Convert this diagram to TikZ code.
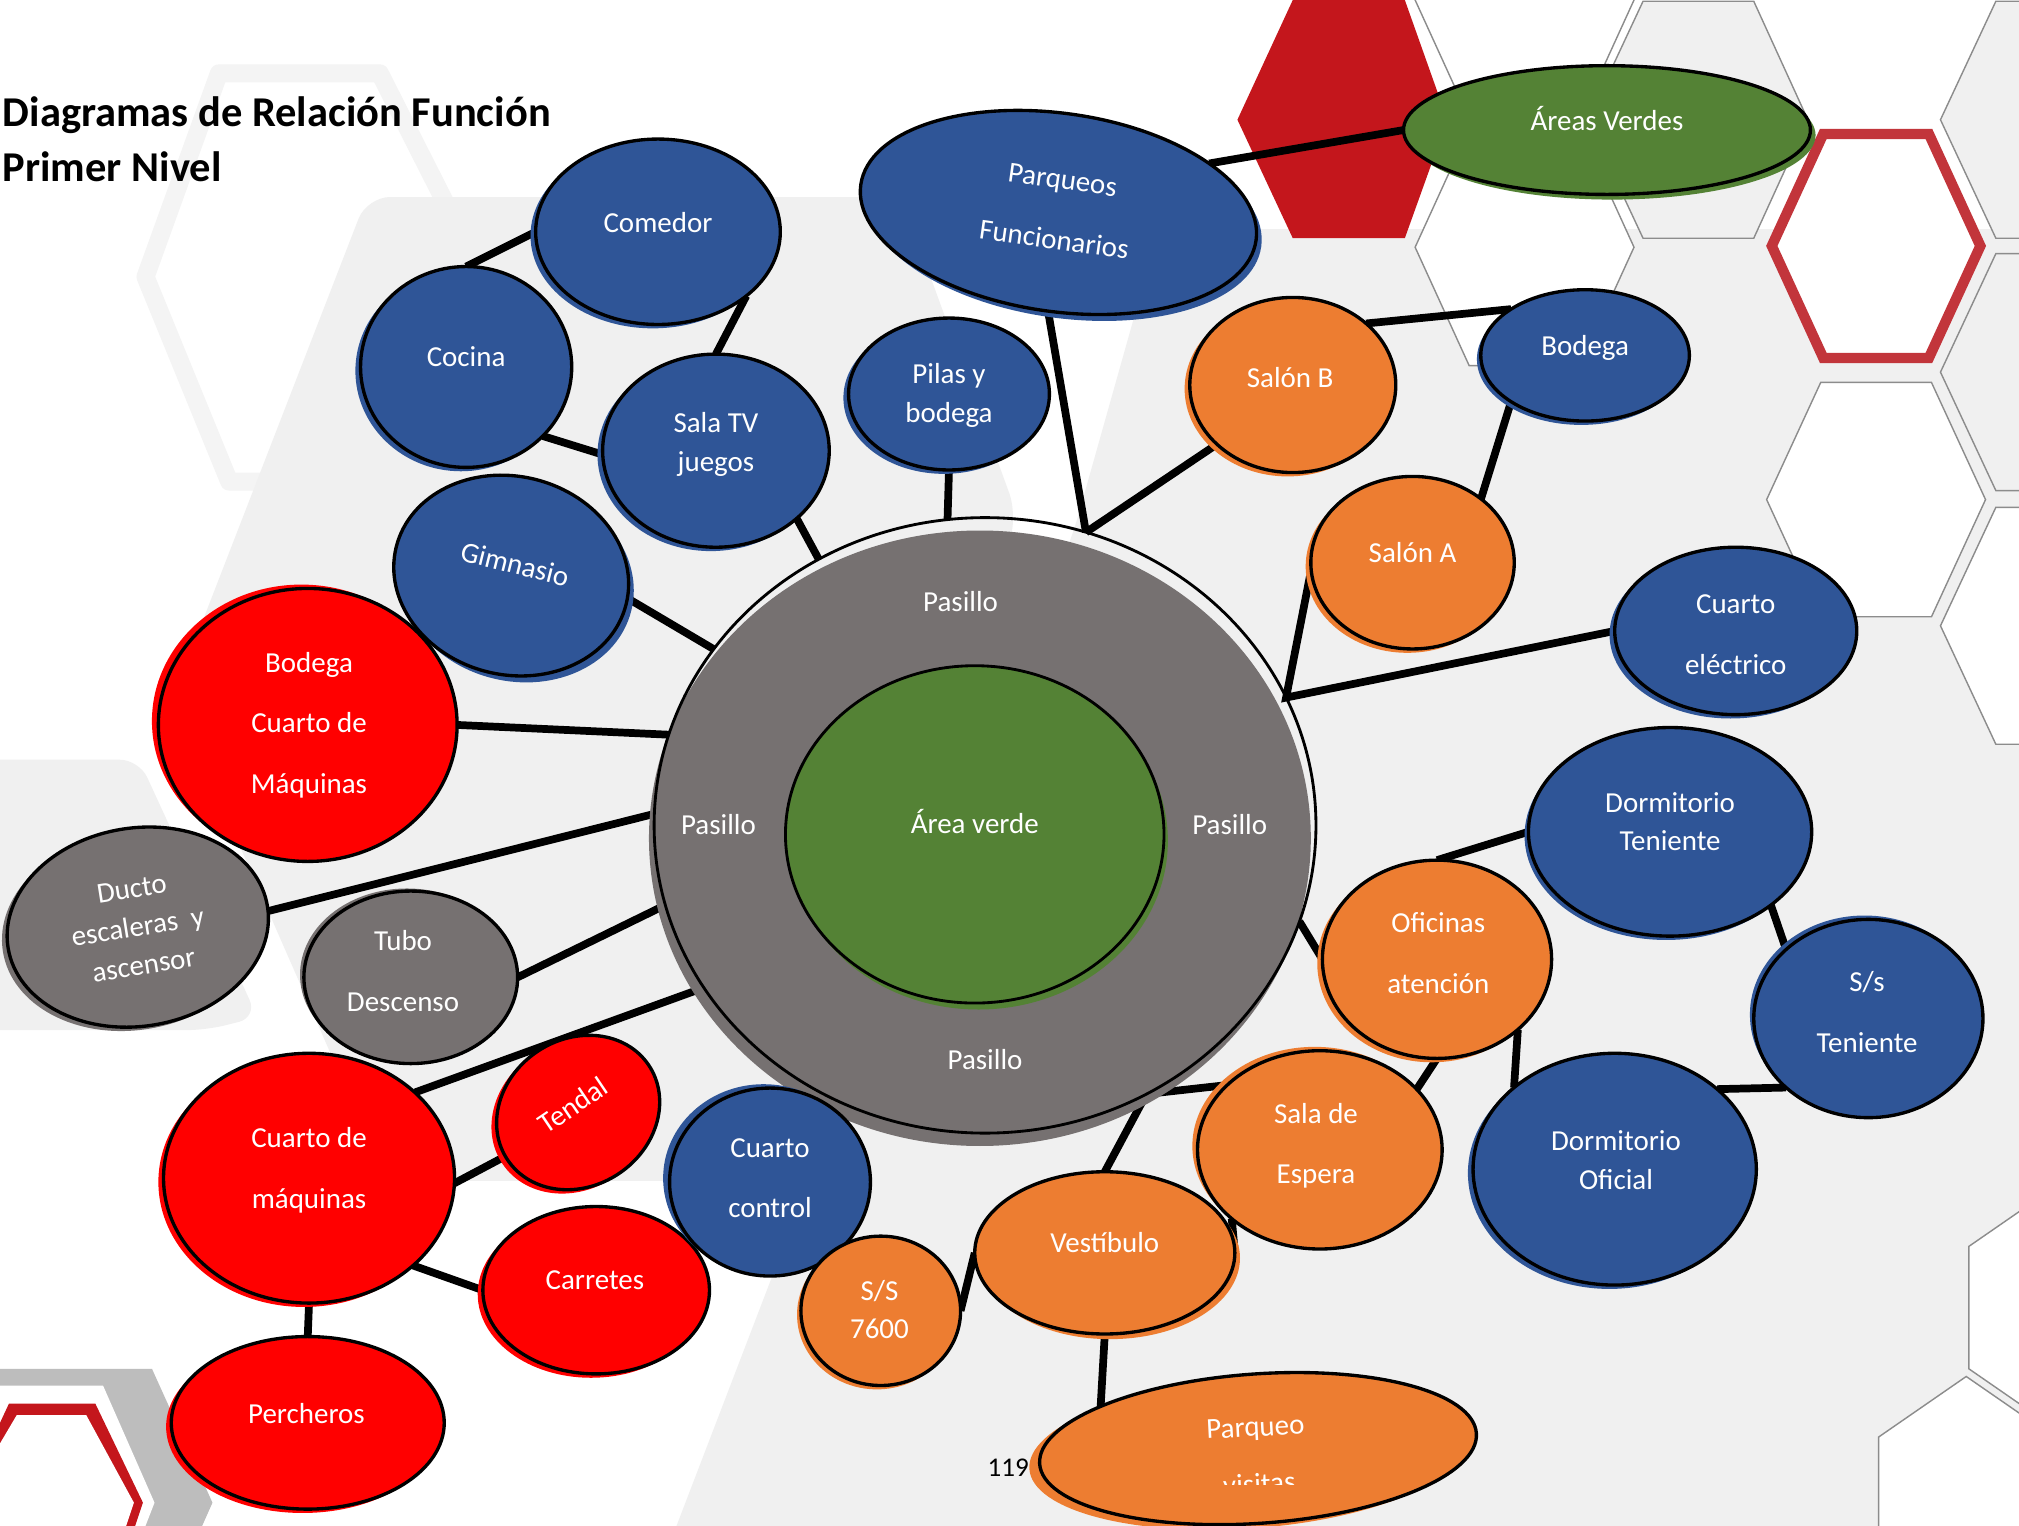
\documentclass[tikz,border=0pt]{standalone}
\usepackage{fontspec}
\setmainfont{Carlito}
\usetikzlibrary{shapes.geometric,shadows}
\definecolor{bblue}{HTML}{2F5597}
\definecolor{borange}{HTML}{ED7D31}
\definecolor{bred}{HTML}{FF0000}
\definecolor{bgreen}{HTML}{548235}
\definecolor{bgray}{HTML}{767171}
\definecolor{bglight}{HTML}{F0F0F0}
\definecolor{faint}{HTML}{F4F4F4}
\definecolor{hexline}{HTML}{8C8C8C}
\definecolor{hexred}{HTML}{C4161C}
\definecolor{hexredline}{HTML}{C2353B}
\definecolor{bandgray}{HTML}{BDBDBD}
\pgfdeclarelayer{bg}
\pgfdeclarelayer{edges}
\pgfsetlayers{bg,edges,main}
\begin{document}
\begin{tikzpicture}[x=1pt,y=-1pt,
  bub/.style n args={3}{ellipse, draw=black, line width=2.6pt, inner sep=0pt, outer sep=0pt, fill=#1,
      general shadow={fill=#1, shadow xshift=#2, shadow yshift=#3}},
  txt/.style={text=white, align=center, font=\fontsize{22.5}{30}\selectfont, inner sep=0pt},
  txtl/.style={text=white, align=center, font=\fontsize{22.5}{47}\selectfont, inner sep=0pt},
  conn/.style={line width=6pt, black},
  hexw/.style={fill=white, draw=hexline, line width=1.1pt},
  hexg/.style={fill=bglight, draw=hexline, line width=1.1pt},
]
\useasboundingbox (0,0) rectangle (1568,1185);

% ---------------- background ----------------
\begin{pgfonlayer}{bg}
\fill[white] (0,0) rectangle (1568,1185);
\draw[faint, line width=14pt, line join=round] (170,57)--(295,57)--(375,215)--(295,374)--(178,374)--(113,215)--cycle;
\fill[bglight, rounded corners=18pt] (135,540)--(285,153)--(700,153)--(790,400)--(700,700)--(590,917)--(300,917)--cycle;
\fill[bglight, rounded corners=18pt] (900,178)--(1600,178)--(1600,1220)--(512,1220)--(650,860)--(833,416)--cycle;
\fill[bglight, rounded corners=15pt] (-30,590)--(108,590)--(200,790)--(160,800)--(-30,800)--cycle;
% hex grid top right
\fill[hexred] (961,93)--(1004,0)--(1091,0)--(1124,93)--(1091,185)--(1004,185)--cycle;
\draw[hexw] (1099,0)--(1141,-92)--(1227,-92)--(1269,0)--(1227,92)--(1141,92)--cycle;
\draw[hexw] (1099,192)--(1141,100)--(1227,100)--(1269,192)--(1227,284)--(1141,284)--cycle;
\draw[hexg] (1233,93)--(1276,1)--(1362,1)--(1404,93)--(1362,185)--(1276,185)--cycle;
\draw[fill=white, draw=hexredline, line width=8pt] (1376,191)--(1416,104)--(1498,104)--(1538,191)--(1498,278)--(1416,278)--cycle;
\draw[hexw] (1372,388)--(1414,297)--(1500,297)--(1542,388)--(1500,479)--(1414,479)--cycle;
\draw[hexg] (1507,93)--(1550,1)--(1636,1)--(1679,93)--(1636,185)--(1550,185)--cycle;
\draw[hexg] (1507,289)--(1550,197)--(1636,197)--(1679,289)--(1636,381)--(1550,381)--cycle;
\draw[hexw] (1507,486)--(1550,394)--(1636,394)--(1679,486)--(1636,578)--(1550,578)--cycle;
% hexes bottom right
\draw[hexw] (1529,968)--(1597,921)--(1665,968)--(1665,1063)--(1597,1110)--(1529,1063)--cycle;
\draw[hexw] (1527,1069)--(1595,1116)--(1595,1211)--(1527,1258)--(1459,1211)--(1459,1116)--cycle;
% bottom left corner
\fill[bandgray] (0,1063)--(118,1063)--(165,1167)--(157,1185)--(0,1185)--cycle;
\fill[white] (0,1076)--(80,1076)--(120,1167)--(113,1185)--(0,1185)--cycle;
\fill[hexred] (7,1090)--(74,1090)--(111,1167)--(105,1185)--(0,1185)--(0,1105)--cycle;
\fill[white] (13,1099)--(67,1099)--(104,1167)--(98,1185)--(0,1185)--(0,1121)--cycle;
\end{pgfonlayer}

% ---------------- title ----------------
\node[anchor=base west, inner sep=0pt, font=\fontsize{33}{40}\selectfont\bfseries] (title1) at (2,98) {Diagramas de Relación Función};
\node[anchor=base west, inner sep=0pt, font=\fontsize{33}{40}\selectfont\bfseries] (title2) at (2,141) {Primer Nivel};

% ---------------- central ----------------
\node[ellipse, draw=black, line width=2.2pt, inner sep=0pt, outer sep=0pt,
      general shadow={fill=bgray, shadow xshift=-4pt, shadow yshift=-10pt},
      minimum width=514, minimum height=478] (central) at (765,641) {};
\node[ellipse, draw=black, line width=2.2pt, inner sep=0pt, outer sep=0pt, fill=bgreen,
      general shadow={fill=bgreen, shadow xshift=3pt, shadow yshift=-5pt},
      minimum width=294, minimum height=262] (green) at (757,648) {};
\node[txt] (t-green) at (757,638) {Área verde};
\node[txt] (p1) at (746,467) {Pasillo};
\node[txt] (p2) at (558,640) {Pasillo};
\node[txt] (p3) at (955,640) {Pasillo};
\node[txt] (p4) at (765,823) {Pasillo};

% ---------------- bubbles ----------------
\node[bub={bblue}{-4pt}{-3pt}, minimum width=190, minimum height=144] (comedor) at (511,180) {};
\node[txt] (t-comedor) at (511,173) {Comedor};
\node[bub={bblue}{-4pt}{-3pt}, minimum width=164, minimum height=156] (cocina) at (362,285) {};
\node[txt] (t-cocina) at (362,277) {Cocina};
\node[bub={bblue}{-4pt}{-3pt}, minimum width=176, minimum height=150] (salatv) at (556,350) {};
\node[txt] (t-salatv) at (556,345) {Sala TV\\juegos};
\node[bub={bblue}{-4pt}{-3pt}, minimum width=156, minimum height=118] (pilas) at (737,306) {};
\node[txt] (t-pilas) at (737,307) {Pilas y\\bodega};
\node[bub={bblue}{4pt}{-5pt}, rotate=-8, minimum width=310, minimum height=154] (parq) at (822,165) {};
\node[txtl, rotate=-8] (t-parq) at (822,163) {Parqueos\\Funcionarios};
\node[bub={bgreen}{4pt}{-4pt}, minimum width=316, minimum height=100] (averdes) at (1248,101) {};
\node[txt] (t-averdes) at (1248,92) {Áreas Verdes};
\node[bub={borange}{-4pt}{-3pt}, minimum width=160, minimum height=136] (salonb) at (1004,299) {};
\node[txt] (t-salonb) at (1002,293) {Salón B};
\node[bub={bblue}{-3pt}{-3pt}, minimum width=162, minimum height=102] (bodega) at (1231,276) {};
\node[txt] (t-bodega) at (1231,270) {Bodega};
\node[bub={borange}{-4pt}{-3pt}, minimum width=158, minimum height=134] (salona) at (1097,437) {};
\node[txt] (t-salona) at (1097,429) {Salón A};
\node[bub={bblue}{-4pt}{-3pt}, minimum width=188, minimum height=130] (celec) at (1348,490) {};
\node[txtl] (t-celec) at (1348,493) {Cuarto\\eléctrico};
\node[bub={bblue}{4pt}{-5pt}, rotate=-14, minimum width=184, minimum height=154] (gym) at (397,447) {};
\node[txt, rotate=-14] (t-gym) at (400,438) {Gimnasio};
\node[bub={bred}{-5pt}{3pt}, minimum width=232, minimum height=212] (bcdm) at (239,563) {};
\node[txtl] (t-bcdm) at (240,563) {Bodega\\Cuarto de\\Máquinas};
\node[bub={bgray}{-4pt}{-3pt}, rotate=9, minimum width=204, minimum height=154] (ducto) at (107,720) {};
\node[txt, rotate=9] (t-ducto) at (107,720) {Ducto\\escaleras~ y\\ascensor};
\node[bub={bgray}{-3pt}{2pt}, minimum width=166, minimum height=134] (tubo) at (319,759) {};
\node[txtl] (t-tubo) at (313,754) {Tubo\\Descenso};
\node[bub={bred}{-4pt}{-3pt}, minimum width=226, minimum height=194] (cdm) at (240,915) {};
\node[txtl] (t-cdm) at (240,909) {Cuarto de\\máquinas};
\node[bub={bred}{-4pt}{-3pt}, rotate=34, minimum width=132, minimum height=114] (tendal) at (449,864) {};
\node[txt, rotate=34] (t-tendal) at (445,858) {Tendal};
\node[bub={bred}{-4pt}{-3pt}, minimum width=176, minimum height=130] (carretes) at (463,1002) {};
\node[txt] (t-carretes) at (462,994) {Carretes};
\node[bub={bred}{-4pt}{-3pt}, minimum width=212, minimum height=134] (percheros) at (239,1105) {};
\node[txt] (t-percheros) at (238,1098) {Percheros};
\node[bub={bblue}{-5pt}{3pt}, minimum width=156, minimum height=146] (cctrl) at (598,918) {};
\node[txtl] (t-cctrl) at (598,915) {Cuarto\\control};
\node[bub={borange}{-3pt}{-3pt}, minimum width=124, minimum height=116] (ss7600) at (684,1018) {};
\node[txt] (t-ss7600) at (683,1017) {S/S\\7600};
\node[bub={borange}{4pt}{-4pt}, minimum width=202, minimum height=126] (vest) at (858,973) {};
\node[txt] (t-vest) at (858,965) {Vestíbulo};
\node[bub={borange}{-4pt}{3pt}, minimum width=190, minimum height=154] (sesp) at (1025,893) {};
\node[txtl] (t-sesp) at (1022,890) {Sala de\\Espera};
\node[bub={borange}{-8pt}{-4pt}, rotate=4, minimum width=340, minimum height=116] (pvis) at (977,1125) {};
\node[txt, rotate=3] (t-pvis) at (975,1110) {Parqueo};
\begin{scope}
\clip (880,1120) rectangle (1080,1153);
\node[txt, rotate=3] (t-pvis2) at (978,1152) {visitas};
\end{scope}
\node[bub={borange}{-4pt}{-3pt}, minimum width=178, minimum height=154] (ofic) at (1116,745) {};
\node[txtl] (t-ofic) at (1117,740) {Oficinas\\atención};
\node[bub={bblue}{-3pt}{-3pt}, minimum width=220, minimum height=162] (dten) at (1297,646) {};
\node[txt] (t-dten) at (1297,638) {Dormitorio\\Teniente};
\node[bub={bblue}{-3pt}{3pt}, minimum width=178, minimum height=154] (ssten) at (1451,791) {};
\node[txtl] (t-ssten) at (1450,786) {S/s\\Teniente};
\node[bub={bblue}{-4pt}{-3pt}, minimum width=220, minimum height=180] (dofi) at (1254,908) {};
\node[txt] (t-dofi) at (1255,901) {Dormitorio\\Oficial};

\node[inner sep=0pt, font=\fontsize{21}{25}\selectfont, text=black] (pnum) at (783,1140) {119};

% ---------------- connectors ----------------
\coordinate (jn) at (central.-59);
\begin{pgfonlayer}{edges}
\draw[conn] (comedor.west) -- (cocina.north);
\draw[conn] (comedor.-36) -- (salatv.north);
\draw[conn] (cocina.-42) -- (salatv.182);
\draw[conn] (salatv.-40) -- (central.122);
\draw[conn] (pilas.south) -- (central.97);
\draw[conn] (parq.26) -- (averdes.west);
\draw[conn] (parq.-88) -- (central.71);
\draw[conn] (salonb.218) -- (central.71);
\draw[conn] (salonb.40) -- (bodega.148);
\draw[conn] (bodega.212) -- (salona.43);
\draw[conn] (salona.184) -- (central.23) -- (celec.west);
\draw[conn] (gym.3) -- (central.147);
\draw[conn] (bcdm.east) -- (central.164);
\draw[conn] (ducto.-2) -- (central.178);
\draw[conn] (tubo.east) -- (central.194);
\draw[conn] (cdm.39) -- (central.210);
\draw[conn] (cdm.-2) -- (tendal.177);
\draw[conn] (cdm.-40) -- (carretes.west);
\draw[conn] (cdm.south) -- (percheros.north);
\draw[conn] (cctrl.42) -- (central.251);
\draw[conn] (ss7600.east) -- (vest.west);
\draw[conn] (sesp.145) -- (jn) -- (vest.north);
\draw[conn] (sesp.218) -- (vest.east);
\draw[conn] (sesp.32) -- (ofic.south);
\draw[conn] (ofic.west) -- (central.-17);
\draw[conn] (ofic.north) -- (dten.west);
\draw[conn] (ofic.-41) -- (dofi.141);
\draw[conn] (dten.-36) -- (ssten.140);
\draw[conn] (ssten.220) -- (dofi.38);
\draw[conn] (vest.south) -- (pvis.161);
\end{pgfonlayer}
\end{tikzpicture}
\end{document}
